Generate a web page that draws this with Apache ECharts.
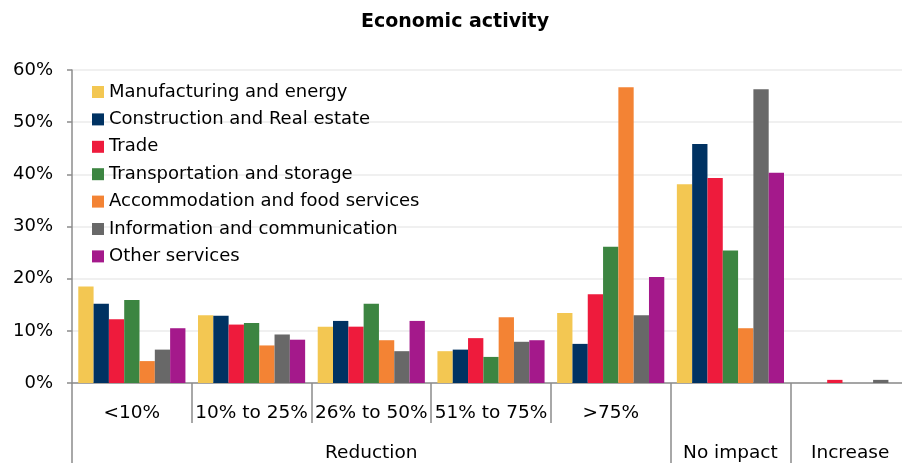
<!DOCTYPE html>
<html>
<head>
<meta charset="utf-8">
<script src="https://cdn.jsdelivr.net/npm/echarts@6/dist/echarts.min.js"></script>
<style>
  html, body { margin: 0; padding: 0; background: #fff; overflow: hidden; }
  /* the chart is slightly wider than the window; its right edge is cut off */
  #chart { width: 910px; height: 463px; }
</style>
</head>
<body>
<div id="chart"></div>
<script>
// Impact bands (lower level of the x axis) and their group labels (upper level)
const bands = ['<10%', '10% to 25%', '26% to 50%', '51% to 75%', '>75%', 'No impact', 'Increase'];
const bandLabels = ['<10%', '10% to 25%', '26% to 50%', '51% to 75%', '>75%', '', ''];
const groupLabels = ['', '', 'Reduction', '', '', 'No impact', 'Increase'];

const yTicks = [0, 10, 20, 30, 40, 50, 60];

// Share of firms (%) per sector and impact band
const manufacturing   = [18.5, 13.0, 10.8, 6.1, 13.4, 38.1, 0.0];
const construction    = [15.2, 12.9, 11.9, 6.4, 7.5, 45.8, 0.0];
const trade           = [12.2, 11.2, 10.8, 8.6, 17.0, 39.3, 0.6];
const transportation  = [15.9, 11.5, 15.2, 5.0, 26.1, 25.4, 0.0];
const accommodation   = [4.2, 7.2, 8.2, 12.6, 56.7, 10.5, 0.0];
const information     = [6.4, 9.3, 6.1, 7.9, 13.0, 56.3, 0.6];
const otherServices   = [10.5, 8.3, 11.9, 8.2, 20.3, 40.3, 0.0];

const sectors = [
  { name: 'Manufacturing and energy', data: manufacturing, color: '#F3C752' },
  { name: 'Construction and Real estate', data: construction, color: '#003262' },
  { name: 'Trade', data: trade, color: '#EE1B3C' },
  { name: 'Transportation and storage', data: transportation, color: '#3C8541' },
  { name: 'Accommodation and food services', data: accommodation, color: '#F38334' },
  { name: 'Information and communication', data: information, color: '#686868' },
  { name: 'Other services', data: otherServices, color: '#A4198B' }
];

const FONT = 'DejaVu Sans';
const axisGray = '#8C8C8C';

const chart = echarts.init(document.getElementById('chart'), null, { renderer: 'canvas' });

chart.setOption({
  animation: false,
  backgroundColor: '#ffffff',
  title: {
    text: 'Economic activity',
    left: 'center',
    top: 8,
    textStyle: { fontFamily: FONT, fontSize: 19, fontWeight: 'bold', color: '#000' }
  },
  legend: {
    orient: 'vertical',
    left: 92,
    top: 83,
    padding: 0,
    itemWidth: 12,
    itemHeight: 12,
    itemGap: 9.4,
    icon: 'rect',
    textStyle: { fontFamily: FONT, fontSize: 18, color: '#000' },
    data: sectors.map(s => s.name)
  },
  grid: { left: 72, top: 70, right: 0, height: 314, containLabel: false },
  xAxis: [
    {
      type: 'category',
      data: bands,
      position: 'bottom',
      axisLine: { show: true, lineStyle: { color: axisGray, width: 1.5 } },
      axisTick: { show: true, length: 40, interval: 0, lineStyle: { color: axisGray, width: 1.5 } },
      axisLabel: {
        interval: 0,
        margin: 21,
        fontFamily: FONT,
        fontSize: 18.5,
        color: '#000',
        formatter: (v, i) => bandLabels[i]
      }
    },
    {
      type: 'category',
      data: bands,
      position: 'bottom',
      offset: 40,
      axisLine: { show: false },
      axisTick: {
        show: true,
        length: 40,
        interval: (i) => i === 0 || i === 5 || i === 6,
        lineStyle: { color: axisGray, width: 1.5 }
      },
      axisLabel: {
        interval: 0,
        margin: 21,
        fontFamily: FONT,
        fontSize: 18.5,
        color: '#000',
        formatter: (v, i) => groupLabels[i]
      }
    }
  ],
  yAxis: {
    type: 'value',
    min: yTicks[0],
    max: yTicks[yTicks.length - 1],
    interval: 10,
    axisLine: { show: true, lineStyle: { color: axisGray, width: 1.5 } },
    axisTick: { show: true, length: 5, lineStyle: { color: axisGray, width: 1.5 } },
    axisLabel: {
      margin: 19,
      fontFamily: FONT,
      fontSize: 18,
      color: '#000',
      formatter: v => v + '%'
    },
    splitLine: { show: true, lineStyle: { color: '#EBEBEB', width: 1.5 } }
  },
  series: sectors.map(s => ({
    name: s.name,
    type: 'bar',
    xAxisIndex: 0,
    data: s.data,
    barGap: '0%',
    barCategoryGap: '10.5%',
    itemStyle: { color: s.color },
    emphasis: { disabled: true }
  }))
});
</script>
</body>
</html>
